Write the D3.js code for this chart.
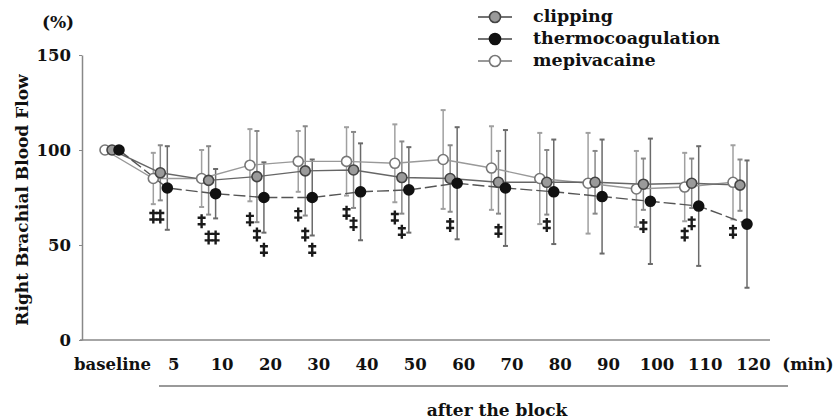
<!DOCTYPE html>
<html>
<head>
<meta charset="utf-8">
<script src="https://cdn.jsdelivr.net/npm/d3@7"></script>
<style>
  body { margin: 0; background: #fff; }
  text { font-family: "DejaVu Serif", serif; font-weight: bold; fill: #111; }
</style>
</head>
<body>
<svg id="chart" width="838" height="420"></svg>
<script>
// categories on the x axis
const categories = ["baseline", "5", "10", "20", "30", "40", "50", "60", "70", "80", "90", "100", "110", "120"];

// mean values (%) and SD for each group
const clipping = [100, 88, 84, 86, 89, 89.5, 85.5, 85, 83, 83, 83, 82, 82.5, 81.5];
const clippingSd = [0, 14.5, 18, 24, 23.5, 20, 19, 17.5, 16.5, 17, 16.5, 13.5, 13, 13.5];
const thermo = [100, 80, 77, 75, 75, 78, 79, 82.5, 80, 78, 75.5, 73, 70.5, 61];
const thermoSd = [0, 22, 13, 18.5, 20, 25.5, 22.5, 29.5, 30.5, 27.5, 30, 33, 31.5, 33.5];
const mepivacaine = [100, 85, 85, 92, 94, 94, 93, 95, 90.5, 85, 82.5, 79.5, 80.5, 83];
const mepivacaineSd = [0, 13.5, 15, 19, 16, 18, 20.5, 26, 22, 24, 26.5, 20, 18, 19.5];

const yTicks = [0, 50, 100, 150];

// significance marks (double dagger): [time, group, value]
const daggers = [
  ["5", "mepivacaine", 65], ["5", "clipping", 65],
  ["10", "mepivacaine", 62.5], ["10", "clipping", 54], ["10", "thermocoagulation", 54],
  ["20", "mepivacaine", 63.5], ["20", "clipping", 55.5], ["20", "thermocoagulation", 47.5],
  ["30", "mepivacaine", 66], ["30", "clipping", 55.5], ["30", "thermocoagulation", 47.5],
  ["40", "mepivacaine", 67], ["40", "clipping", 61],
  ["50", "mepivacaine", 64.5], ["50", "clipping", 57],
  ["60", "clipping", 60.5],
  ["70", "clipping", 57.5],
  ["80", "clipping", 60.5],
  ["100", "clipping", 60],
  ["110", "mepivacaine", 55.5], ["110", "clipping", 61.5],
  ["120", "mepivacaine", 57]
];

// series styling
const series = [
  { name: "mepivacaine", values: mepivacaine, sd: mepivacaineSd, dx: -7,
    fill: "#fff", stroke: "#777", line: "#999", bar: "#a0a0a0", dash: null },
  { name: "clipping", values: clipping, sd: clippingSd, dx: 0,
    fill: "#9a9a9a", stroke: "#444", line: "#666", bar: "#888", dash: null },
  { name: "thermocoagulation", values: thermo, sd: thermoSd, dx: 7,
    fill: "#111", stroke: "#111", line: "#555", bar: "#6a6a6a", dash: "12,4" }
];
const byName = {};
series.forEach(s => byName[s.name] = s);

const svg = d3.select("#chart");

const x = d3.scalePoint().domain(categories).range([112, 740]);
const y = d3.scaleLinear().domain([0, 150]).range([340, 55]);

// y axis
const yAxis = svg.append("g")
  .attr("transform", "translate(82,0)")
  .call(d3.axisLeft(y).tickValues(yTicks).tickSize(3).tickPadding(8).tickSizeOuter(0));
yAxis.select(".domain").attr("stroke", "#888").attr("stroke-width", 1.5);
yAxis.selectAll(".tick line").attr("stroke", "#888");
yAxis.selectAll("text").style("font-size", "16.5px").attr("fill", "#111");

// x axis line
svg.append("line")
  .attr("x1", 80).attr("x2", 770)
  .attr("y1", y(0)).attr("y2", y(0))
  .attr("stroke", "#888").attr("stroke-width", 1.5);

const xAxis = svg.append("g")
  .attr("transform", `translate(0,${y(0)})`)
  .call(d3.axisBottom(x).tickSize(0));
xAxis.select(".domain").remove();
xAxis.selectAll("text")
  .attr("y", 24).attr("dy", "0.35em")
  .attr("dx", d => d === "baseline" ? 0 : 13)
  .style("font-size", "16.5px").attr("fill", "#111");

svg.append("text").attr("x", 808).attr("y", 364).attr("dy", "0.35em")
  .attr("text-anchor", "middle").style("font-size", "16.5px").text("(min)");

// "after the block" bracket
svg.append("line")
  .attr("x1", 159).attr("x2", 788).attr("y1", 386).attr("y2", 386)
  .attr("stroke", "#777").attr("stroke-width", 1.5);
svg.append("text").attr("x", 497).attr("y", 410).attr("dy", "0.35em")
  .attr("text-anchor", "middle").style("font-size", "17px").text("after the block");

// axis titles
svg.append("text").attr("x", 58).attr("y", 22).attr("dy", "0.35em")
  .attr("text-anchor", "middle").style("font-size", "17px").text("(%)");
svg.append("text")
  .attr("transform", "translate(22,200) rotate(-90)")
  .attr("dy", "0.35em")
  .attr("text-anchor", "middle").style("font-size", "17px")
  .text("Right Brachial Blood Flow");

// error bars
series.forEach(s => {
  const g = svg.append("g");
  categories.forEach((c, i) => {
    if (!s.sd[i]) return;
    const cx = x(c) + s.dx;
    const top = y(s.values[i] + s.sd[i]);
    const bot = y(s.values[i] - s.sd[i]);
    g.append("line").attr("x1", cx).attr("x2", cx).attr("y1", top).attr("y2", bot)
      .attr("stroke", s.bar).attr("stroke-width", 1.5);
    [top, bot].forEach(yy => g.append("line")
      .attr("x1", cx - 2.5).attr("x2", cx + 2.5).attr("y1", yy).attr("y2", yy)
      .attr("stroke", s.bar).attr("stroke-width", 2));
  });
});

// lines
const line = d3.line().x(d => d[0]).y(d => d[1]);
series.forEach(s => {
  svg.append("path")
    .datum(categories.map((c, i) => [x(c) + s.dx, y(s.values[i])]))
    .attr("d", line)
    .attr("fill", "none")
    .attr("stroke", s.line)
    .attr("stroke-width", 1.4)
    .attr("stroke-dasharray", s.dash);
});

// markers
series.forEach(s => {
  svg.append("g").selectAll("circle")
    .data(categories.map((c, i) => [c, s.values[i]]))
    .join("circle")
    .attr("cx", d => x(d[0]) + s.dx)
    .attr("cy", d => y(d[1]))
    .attr("r", 5)
    .attr("fill", s.fill)
    .attr("stroke", s.stroke)
    .attr("stroke-width", 1.6);
});

// significance daggers, drawn as a stem with two cross bars
function daggerPath(cx, cy) {
  const p = d3.path();
  p.moveTo(cx, cy - 7); p.lineTo(cx, cy + 7);
  p.moveTo(cx - 4, cy - 3.5); p.lineTo(cx + 4, cy - 3.5);
  p.moveTo(cx - 4, cy + 3); p.lineTo(cx + 4, cy + 3);
  return p.toString();
}
svg.append("g").selectAll("path")
  .data(daggers)
  .join("path")
  .attr("d", d => daggerPath(x(d[0]) + byName[d[1]].dx, y(d[2])))
  .attr("fill", "none")
  .attr("stroke", "#1a1a1a")
  .attr("stroke-width", 2.4);

// legend
const legendOrder = ["clipping", "thermocoagulation", "mepivacaine"];
const lg = svg.append("g");
legendOrder.forEach((name, i) => {
  const s = byName[name];
  const ly = 17 + i * 22;
  lg.append("line").attr("x1", 478).attr("x2", 512).attr("y1", ly).attr("y2", ly)
    .attr("stroke", s.line === "#999" ? "#777" : "#444").attr("stroke-width", 1.6);
  lg.append("circle").attr("cx", 495).attr("cy", ly).attr("r", 5.5)
    .attr("fill", s.fill).attr("stroke", s.stroke).attr("stroke-width", 1.6);
  lg.append("text").attr("x", 533).attr("y", ly).attr("dy", "0.3em")
    .style("font-size", "17.5px").text(name);
});
</script>
</body>
</html>
